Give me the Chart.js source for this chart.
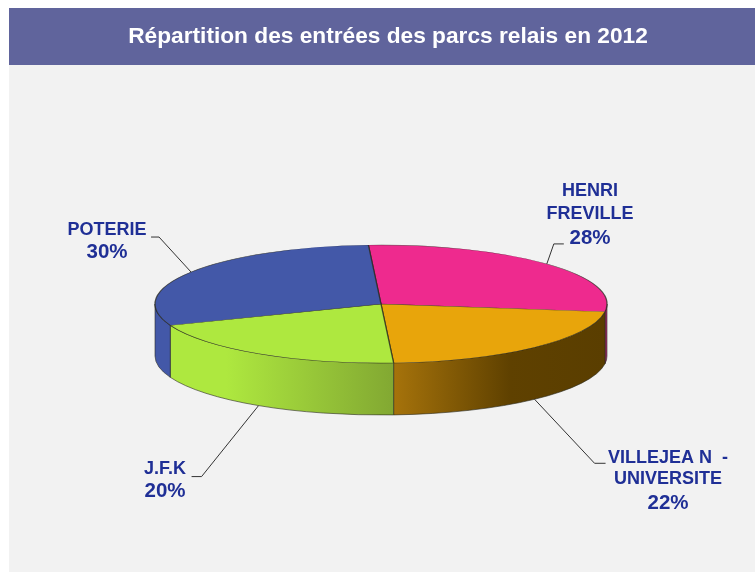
<!DOCTYPE html>
<html><head><meta charset="utf-8">
<style>html,body{margin:0;padding:0;background:#fff}canvas{display:block}</style>
<script src="https://cdn.jsdelivr.net/npm/chart.js@4"></script>
</head><body><canvas id="c" width="755" height="573"></canvas>
<script>
const titleText = 'Répartition des entrées des parcs relais en 2012';
const categories = ['HENRI FREVILLE', 'VILLEJEAN - UNIVERSITE', 'J.F.K', 'POTERIE'];
const shares = [28, 22, 20, 30];
const labelLines = [['HENRI', 'FREVILLE', '28%'], ['VILLEJEA N  -', 'UNIVERSITE', '22%'], ['J.F.K', '20%'], ['POTERIE', '30%']];
const faceColors = ['#EE2A8E', '#E8A50B', '#AEE83F', '#4358A8'];
const sideStops = [
  [[0, '#A32A6A'], [1, '#A32A6A']],
  [[0, '#A6730B'], [0.55, '#5F4100'], [1, '#5A3E00']],
  [[0, '#AEE83F'], [0.25, '#AEE83F'], [1, '#82A832']],
  [[0, '#4358A8'], [1, '#4358A8']]
];
/* layout of the fake 3-D disc on the page */
const disc = {cx: 381, cy: 304, rx: 226, ry: 59, depth: 52};
const leaders = [
  {elbow: [7, -20], tail: 10, front: false},
  {elbow: [60, 64], tail: 11, front: true},
  {elbow: [-57, 71], tail: -10, front: true},
  {elbow: [-32, -35], tail: -8, front: false}
];
const labelBoxes = [
  {x: 590, y: [196, 219, 244]},
  {x: 668, y: [463, 484, 509]},
  {x: 165, y: [474, 497]},
  {x: 107, y: [235, 258]}
];
const disc3d = {
  id: 'disc3d',
  beforeDraw(chart) {
    const c = chart.ctx;
    c.save();
    c.fillStyle = '#FFFFFF'; c.fillRect(0, 0, chart.width, chart.height);
    c.fillStyle = '#F2F2F2'; c.fillRect(9, 65, chart.width - 9, 507);
    c.fillStyle = '#60649C'; c.fillRect(9, 8, chart.width - 9, 57);
    c.restore();
  },
  beforeDatasetDraw(chart) {
    const c = chart.ctx, arcs = chart.getDatasetMeta(0).data;
    // extruded rim, built from the library's own arc angles
    arcs.forEach((a, i) => {
      const from = Math.max(a.startAngle, 0), to = Math.min(a.endAngle, Math.PI);
      if (to <= from) return;
      const x0 = disc.cx + disc.rx * Math.cos(to), x1 = disc.cx + disc.rx * Math.cos(from);
      const g = c.createLinearGradient(x0, 0, x1, 0);
      sideStops[i].forEach(s => g.addColorStop(s[0], s[1]));
      c.save();
      c.beginPath();
      c.ellipse(disc.cx, disc.cy, disc.rx, disc.ry, 0, from, to);
      c.ellipse(disc.cx, disc.cy + disc.depth, disc.rx, disc.ry, 0, to, from, true);
      c.closePath();
      c.fillStyle = g; c.fill();
      c.strokeStyle = 'rgba(40,40,30,0.75)'; c.lineWidth = 0.8; c.stroke();
      c.restore();
    });
    // squash the real pie into the disc's top face
    const a0 = arcs[0];
    c.save();
    c.translate(disc.cx, disc.cy);
    c.scale(disc.rx / a0.outerRadius, disc.ry / a0.outerRadius);
    c.translate(-a0.x, -a0.y);
  },
  afterDatasetDraw(chart) { chart.ctx.restore(); },
  afterDatasetsDraw(chart) {
    const c = chart.ctx, arcs = chart.getDatasetMeta(0).data;
    arcs.forEach((a, i) => {
      const mid = (a.startAngle + a.endAngle) / 2, L = leaders[i];
      const sx = disc.cx + disc.rx * Math.cos(mid);
      const sy = disc.cy + disc.ry * Math.sin(mid) + (L.front ? disc.depth : 0);
      const ex = sx + L.elbow[0], ey = sy + L.elbow[1];
      c.save();
      c.strokeStyle = '#333333'; c.lineWidth = 1;
      c.beginPath(); c.moveTo(sx, sy); c.lineTo(ex, ey); c.lineTo(ex + L.tail, ey); c.stroke();
      c.restore();
      c.save();
      c.fillStyle = '#1F2F96';
      c.textAlign = 'center'; c.textBaseline = 'alphabetic';
      labelLines[i].forEach((t, k) => {
        c.font = t.endsWith('%') ? 'bold 20.5px "Liberation Sans"' : 'bold 18px "Liberation Sans"';
        c.fillText(t, labelBoxes[i].x, labelBoxes[i].y[k]);
      });
      c.restore();
    });
  }
};
new Chart(document.getElementById('c'), {
  type: 'pie',
  data: {labels: categories, datasets: [{data: shares, backgroundColor: faceColors, borderColor: 'rgba(40,40,30,0.75)', borderWidth: 1.5, rotation: -3.2}]},
  options: {
    responsive: false, animation: false,
    layout: {padding: {left: 21, top: 23.5}},
    plugins: {
      legend: {display: false}, tooltip: {enabled: false},
      title: {display: true, text: titleText, color: '#FFFFFF', fullSize: false,
        font: {family: '"Liberation Sans"', size: 22.7, weight: 'bold'}, padding: 0}
    }
  },
  plugins: [disc3d]
});
</script></body></html>
